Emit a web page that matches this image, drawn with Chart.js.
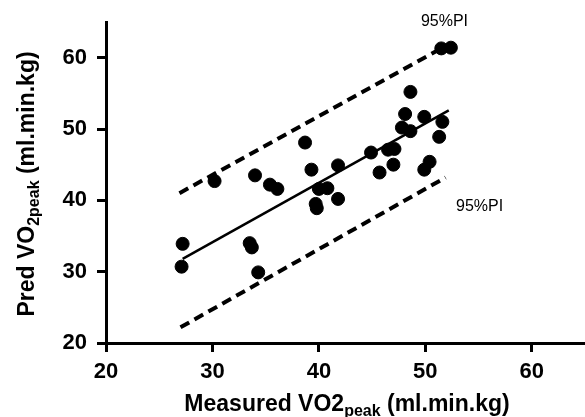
<!DOCTYPE html>
<html>
<head>
<meta charset="utf-8">
<script src="https://cdn.jsdelivr.net/npm/chart.js@4"></script>
<style>
  body { margin: 0; background: #fff; }
  #wrap { width: 585px; height: 417px; position: relative; }
</style>
</head>
<body>
<div id="wrap"><canvas id="vo2-chart"></canvas></div>
<script>
// measured vs predicted VO2peak
const measured  = [27.1, 27.2, 30.2, 33.5, 33.7, 34.3, 34.0, 35.4, 36.1, 38.7, 39.3, 40.0, 40.8, 39.7, 39.8, 41.8, 41.8,
                   44.9, 45.7, 46.5, 47.1, 47.0, 47.8, 48.6, 48.1, 48.6, 49.9, 50.4, 49.9, 51.6, 51.3, 51.5, 52.4];
const predicted = [30.7, 33.9, 42.7, 34.0, 33.4, 29.9, 43.5, 42.2, 41.6, 48.1, 44.3, 41.6, 41.7, 39.5, 38.9, 44.9, 40.2,
                   46.7, 43.9, 47.1, 47.2, 45.0, 50.2, 49.7, 52.1, 55.2, 51.7, 45.4, 44.3, 51.0, 48.9, 61.3, 61.4];

// regression line and 95% prediction interval end points
const fitX   = [27.2, 52.2];
const fitY   = [31.8, 52.6];
const upperX = [26.9, 51.5];
const upperY = [41.0, 61.3];
const lowerX = [27.0, 51.9];
const lowerY = [22.2, 43.2];

const xTicks = [20, 30, 40, 50, 60];
const yTicks = [20, 30, 40, 50, 60];

const piText = ['95%PI', '95%PI'];
const piX    = [51.8, 55.1];
const piY    = [65.0, 39.1];

const xTitle = [['Measured VO2', false], ['peak', true], [' (ml.min.kg)', false]];
const yTitle = [['Pred VO', false], ['2peak', true], [' (ml.min.kg)', false]];

const FONT = 'Arial, "Liberation Sans", sans-serif';

function pts(xs, ys) {
    return xs.map((x, i) => ({ x: x, y: ys[i] }));
}

// draws a line of text with subscript parts, centred on cx
function richText(ctx, parts, cx, baseY) {
    let total = 0;
    const widths = parts.map(([t, sub]) => {
        ctx.font = sub ? 'bold 16px ' + FONT : 'bold 23px ' + FONT;
        const w = ctx.measureText(t).width;
        total += w;
        return w;
    });
    let x = cx - total / 2;
    parts.forEach(([t, sub], i) => {
        ctx.font = sub ? 'bold 16px ' + FONT : 'bold 23px ' + FONT;
        ctx.fillText(t, x, baseY + (sub ? 5 : 0));
        x += widths[i];
    });
}

const labelsPlugin = {
    id: 'labels',
    afterDraw(chart) {
        const ctx = chart.ctx;
        const xs = chart.scales.x, ys = chart.scales.y;
        ctx.save();
        ctx.fillStyle = '#000';
        ctx.textAlign = 'left';
        ctx.textBaseline = 'alphabetic';

        // axis titles
        richText(ctx, xTitle, 347, 411);
        ctx.save();
        ctx.translate(34, 184);
        ctx.rotate(-Math.PI / 2);
        richText(ctx, yTitle, 0, 0);
        ctx.restore();

        // prediction interval labels
        ctx.font = '16px ' + FONT;
        ctx.textAlign = 'center';
        ctx.textBaseline = 'middle';
        piText.forEach((t, i) => {
            ctx.fillText(t, xs.getPixelForValue(piX[i]), ys.getPixelForValue(piY[i]));
        });
        ctx.restore();
    }
};

const axisCommon = {
    type: 'linear',
    min: 20,
    max: 65,
    border: { display: true, color: '#000', width: 3 },
    grid: { drawOnChartArea: false, drawTicks: true, tickLength: 9, tickWidth: 3, tickColor: '#000', color: '#000' },
    ticks: { color: '#000', font: { family: FONT, size: 22, weight: 'bold' } }
};

new Chart(document.getElementById('vo2-chart'), {
    type: 'scatter',
    data: {
        datasets: [
            {
                data: pts(measured, predicted),
                backgroundColor: '#000',
                borderColor: '#000',
                pointRadius: 6.5,
                pointHoverRadius: 6.5,
                order: 0
            },
            {
                type: 'line',
                data: pts(fitX, fitY),
                borderColor: '#000',
                borderWidth: 2.5,
                pointRadius: 0,
                fill: false,
                order: 1
            },
            {
                type: 'line',
                data: pts(upperX, upperY),
                borderColor: '#000',
                borderWidth: 4,
                borderDash: [10, 6],
                pointRadius: 0,
                fill: false,
                order: 1
            },
            {
                type: 'line',
                data: pts(lowerX, lowerY),
                borderColor: '#000',
                borderWidth: 4,
                borderDash: [10, 6],
                pointRadius: 0,
                fill: false,
                order: 1
            }
        ]
    },
    options: {
        responsive: true,
        maintainAspectRatio: false,
        animation: false,
        events: [],
        layout: { autoPadding: false, padding: { top: 22, right: 0, left: 0, bottom: 0 } },
        plugins: { legend: { display: false }, tooltip: { enabled: false } },
        scales: {
            x: {
                ...axisCommon,
                position: 'bottom',
                ticks: { ...axisCommon.ticks, padding: 7 },
                afterBuildTicks: s => { s.ticks = xTicks.map(v => ({ value: v })); },
                afterFit: s => { s.height = 74; s.paddingRight = 0; s.paddingLeft = 0; }
            },
            y: {
                ...axisCommon,
                position: 'left',
                ticks: { ...axisCommon.ticks, padding: 10 },
                afterBuildTicks: s => { s.ticks = yTicks.map(v => ({ value: v })); },
                afterFit: s => { s.width = 106; s.paddingTop = 0; s.paddingBottom = 0; }
            }
        }
    },
    plugins: [labelsPlugin]
});
</script>
</body>
</html>
